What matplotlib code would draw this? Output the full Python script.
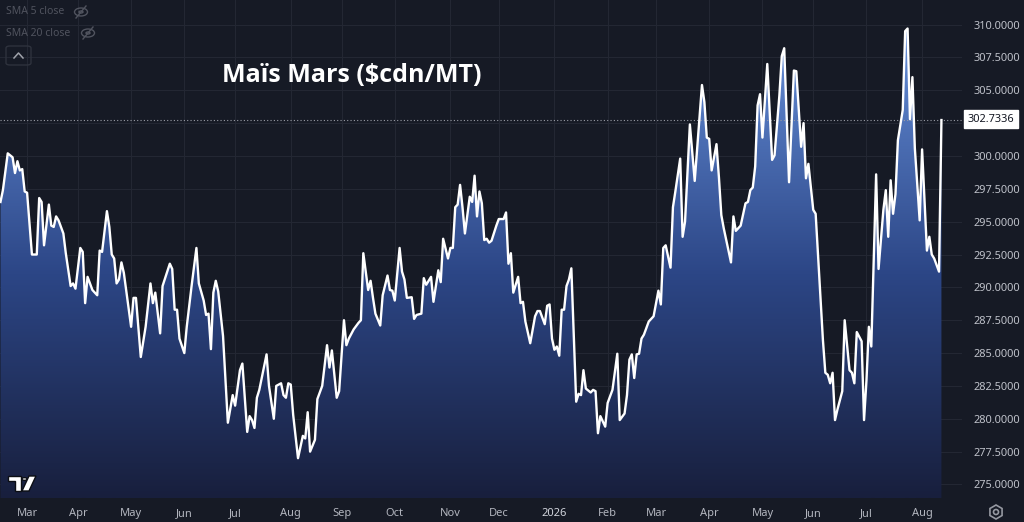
import matplotlib
matplotlib.use("Agg")
import matplotlib.pyplot as plt
import numpy as np
import pandas as pd
from matplotlib.colors import LinearSegmentedColormap
from matplotlib.lines import Line2D
from matplotlib.patches import Ellipse, Circle, FancyBboxPatch, Polygon, RegularPolygon

# ---- data (trading-session number counted from 2025-02-14, close price) ----
start_day = "2025-02-14"
sessions = [
    0, 1, 3, 5, 6, 7, 8, 9, 10, 11,
    13, 15, 16, 17, 18, 20, 21, 22, 23, 24,
    26, 27, 29, 30, 31, 33, 34, 35, 36, 38,
    40, 41, 42, 44, 45, 46, 47, 48, 49, 50,
    51, 54, 55, 56, 58, 60, 62, 63, 64, 66,
    67, 70, 71, 72, 73, 74, 76, 77, 79, 81,
    82, 84, 85, 86, 87, 88, 89, 90, 92, 94,
    96, 97, 99, 100, 102, 103, 104, 105, 106, 107,
    110, 111, 113, 114, 116, 117, 118, 119, 120, 121,
    123, 125, 126, 127, 128, 130, 131, 133, 135, 136,
    137, 139, 140, 142, 143, 144, 146, 148, 149, 150,
    152, 153, 154, 155, 157, 158, 160, 161, 162, 163,
    165, 166, 167, 168, 170, 171, 172, 174, 175, 176,
    178, 179, 181, 182, 183, 185, 186, 187, 188, 189,
    190, 191, 192, 194, 195, 196, 197, 198, 199, 200,
    201, 202, 203, 205, 206, 208, 209, 210, 211, 212,
    214, 215, 216, 217, 219, 221, 222, 223, 225, 226,
    227, 228, 229, 230, 231, 232, 233, 234, 235, 236,
    238, 239, 240, 241, 242, 244, 245, 246, 247, 248,
    250, 251, 253, 255, 256, 258, 259, 260, 261, 262,
    263, 264, 265, 266, 268, 270, 272, 273, 274, 275,
    277, 278, 279, 281, 282, 283, 285, 287, 290, 291,
    292, 293, 294, 296, 297, 298, 299, 302, 303, 304,
    306, 308, 309, 310, 311, 312, 313, 314, 315, 317,
    319, 320, 322, 323, 324, 326, 328, 329, 331, 332,
    333, 334, 336, 337, 340, 341, 342, 343, 344, 345,
    346, 348, 349, 350, 351, 352, 353, 354, 356, 357,
    358, 359, 360, 362, 363, 365, 366, 367, 368, 369,
    370, 371, 373, 374, 375, 376, 377, 378, 380, 381,
    383, 384, 385, 386, 388, 389,
]
prices = [
    296.5, 297.4, 300.2, 299.9, 298.7, 299.6, 298.9, 299.0, 297.3, 297.2,
    292.5, 292.5, 296.8, 296.5, 293.2, 296.3, 294.7, 294.6, 295.4, 295.1,
    294.1, 292.6, 290.1, 290.3, 289.9, 293.0, 292.7, 288.8, 290.8, 289.8,
    289.4, 292.8, 292.7, 295.8, 294.6, 292.5, 292.2, 290.3, 290.6, 291.9,
    291.1, 287.0, 289.2, 289.2, 284.7, 287.0, 290.3, 288.8, 289.6, 286.5,
    290.1, 291.8, 291.4, 288.3, 288.3, 286.1, 285.0, 287.0, 290.1, 293.0,
    290.3, 289.0, 287.9, 288.0, 285.3, 289.6, 290.5, 289.7, 286.3, 279.7,
    281.8, 281.0, 283.7, 284.2, 279.0, 280.2, 279.9, 279.3, 281.6, 282.2,
    284.9, 282.5, 280.0, 282.5, 282.7, 281.8, 281.6, 282.7, 282.6, 280.3,
    277.0, 278.7, 278.5, 280.5, 277.5, 278.4, 281.5, 282.5, 285.6, 283.9,
    285.2, 281.6, 282.1, 287.5, 285.6, 286.1, 286.8, 287.3, 287.5, 292.6,
    289.8, 290.5, 289.2, 288.0, 287.1, 289.4, 290.9, 289.8, 289.75, 289.0,
    293.0, 291.2, 290.6, 289.2, 289.25, 287.6, 287.9, 288.0, 290.7, 290.2,
    290.8, 288.9, 291.3, 290.4, 293.7, 292.2, 293.0, 293.0, 296.1, 296.3,
    297.8, 296.1, 294.1, 296.9, 296.5, 298.5, 295.4, 297.3, 296.4, 293.6,
    293.7, 293.4, 293.55, 294.7, 295.2, 295.2, 295.7, 291.8, 292.6, 289.6,
    290.8, 288.8, 288.9, 287.4, 285.75, 287.8, 288.2, 288.2, 287.2, 288.6,
    288.7, 286.1, 285.25, 285.5, 284.8, 288.3, 288.3, 290.1, 290.6, 291.45,
    281.3, 281.9, 281.8, 283.7, 282.3, 282.0, 282.2, 282.1, 278.9, 280.2,
    279.4, 281.2, 282.2, 284.95, 279.9, 280.4, 281.8, 284.5, 284.9, 283.1,
    284.9, 284.95, 286.1, 286.4, 287.4, 287.8, 289.75, 288.7, 293.0, 293.2,
    291.5, 296.1, 297.3, 299.8, 293.85, 295.0, 302.4, 298.1, 305.4, 304.1,
    301.4, 301.3, 298.9, 300.9, 298.4, 295.5, 294.5, 291.9, 295.4, 294.3,
    294.7, 296.4, 296.5, 297.4, 297.6, 299.2, 303.85, 304.7, 301.4, 307.0,
    299.7, 300.05, 304.6, 307.6, 308.2, 298.0, 306.5, 306.45, 300.7, 302.5,
    298.3, 299.4, 295.9, 295.6, 286.0, 283.5, 283.35, 282.7, 283.5, 279.9,
    280.7, 282.1, 287.5, 285.6, 283.7, 283.5, 282.7, 286.6, 285.9, 279.9,
    282.9, 287.0, 285.5, 298.6, 291.4, 295.9, 297.4, 293.85, 298.15, 295.6,
    297.1, 301.2, 303.5, 309.5, 309.7, 302.8, 306.0, 300.6, 295.1, 300.5,
    292.8, 293.85, 292.5, 292.2, 291.2, 302.7336,
]
price_ticks = np.arange(275.0, 310.01, 2.5)
last_price = 302.7336
title = "Maïs Mars ($cdn/MT)"
legend_rows = ["SMA 5 close", "SMA 20 close"]

BG = "#161a25"
GRID = "#232733"
TXT = "#b2b5be"
W, H = 1024, 522


def px(x, y):
    return x / W, 1 - y / H


fig = plt.figure(figsize=(W / 100, H / 100), dpi=100, facecolor=BG)
plt.rcParams["font.family"] = ["Noto Sans", "DejaVu Sans"]
ax = fig.add_axes([0, 24 / H, 962 / W, 1 - 24 / H])
ax.set_facecolor(BG)
for s in ax.spines.values():
    s.set_visible(False)

x = np.array(sessions, dtype=float)
y = np.array(prices)
ymin, ymax = 273.97, 311.87
xmin, xmax = -0.2, 397.5

# gradient area under the line
poly = ax.fill_between(x, y, ymin, facecolor="none", edgecolor="none")
cmap = LinearSegmentedColormap.from_list(
    "tv", [(0, "#181f3d"), (0.45, "#2c4686"), (1, "#6c97e2")])
grad = np.linspace(0, 1, 256).reshape(-1, 1)
img = ax.imshow(grad, extent=[xmin, xmax, ymin, ymax], origin="lower",
                aspect="auto", cmap=cmap, zorder=1)
img.set_clip_path(poly.get_paths()[0], transform=ax.transData)
ax.plot(x, y, color="white", lw=1.7, zorder=3, solid_joinstyle="round")

# last price dotted line
ax.axhline(last_price, color="#9a9da6", lw=0.8, ls=(0, (1, 2)), zorder=2)

ax.set_xlim(xmin, xmax)
ax.set_ylim(ymin, ymax)

# month ticks at first session of each month
days = pd.bdate_range(start_day, periods=400)
month_idx, month_lab = [], []
prev = None
for i, d in enumerate(days):
    if (d.year, d.month) != prev:
        if 0 < i < xmax:
            month_idx.append(i)
            month_lab.append(str(d.year) if d.month == 1 else d.strftime("%b"))
        prev = (d.year, d.month)
ax.set_xticks(month_idx)
ax.set_xticklabels(month_lab)
for lab in ax.get_xticklabels():
    lab.set_color(TXT)
    lab.set_fontsize(8)
    if lab.get_text().isdigit():
        lab.set_fontweight("bold")
        lab.set_color("#d1d4dc")

ax.yaxis.tick_right()
ax.set_yticks(price_ticks)
ax.set_yticklabels(["" if abs(v - 302.5) < 0.01 else f"{v:.4f}" for v in price_ticks])
ax.tick_params(axis="y", length=0, pad=8, labelsize=7.9, labelcolor="#bfc2ca")
ax.tick_params(axis="x", length=0, pad=7)
ax.grid(True, color=GRID, lw=0.8, zorder=0)
ax.set_axisbelow(True)

# last price label
fig.text(*px(991, 119), f"{last_price:.4f}", ha="center", va="center",
         fontsize=7.9, color="#131722",
         bbox=dict(boxstyle="square,pad=0.3", fc="white", ec="white"))

# title
fig.text(*px(222, 76), title, ha="left", va="center", fontsize=18,
         fontweight="bold", color="white", family=["Open Sans", "DejaVu Sans"])

# legend rows with hidden-eye icons
dim = "#50535e"
for row, yy, ex in zip(legend_rows, [12, 33], [81, 88]):
    fig.text(*px(6, yy), row, ha="left", va="center", fontsize=7.5, color=dim)
    cx, cy = px(ex, yy)
    fig.add_artist(Ellipse((cx, cy), 13 / W, 8 / H, fill=False, ec=dim, lw=1,
                           transform=fig.transFigure))
    fig.add_artist(Circle((cx, cy), 2 / W, fill=False, ec=dim, lw=1,
                          transform=fig.transFigure))
    x0, y0 = px(ex - 5, yy + 6)
    x1, y1 = px(ex + 5, yy - 6)
    fig.add_artist(Line2D([x0, x1], [y0, y1], color=dim, lw=1,
                          transform=fig.transFigure))

bx, by = px(6, 65)
fig.add_artist(FancyBboxPatch((bx, by), 25 / W, 19 / H,
                              boxstyle="round,pad=0,rounding_size=0.004",
                              fill=False, ec="#2e323d", lw=1,
                              transform=fig.transFigure))
cx = [px(14, 58)[0], px(18.5, 53)[0], px(23, 58)[0]]
cy = [px(14, 58)[1], px(18.5, 53)[1], px(23, 58)[1]]
fig.add_artist(Line2D(cx, cy, color="#a0a3ab", lw=1.1, transform=fig.transFigure))


# TradingView logo (bottom left)
def fpoly(pts, **kw):
    fig.add_artist(Polygon([px(a, b) for a, b in pts], closed=True,
                           transform=fig.transFigure, **kw))


logo = dict(fc="white", ec="#0c0e14", lw=1)
fpoly([(8, 476), (21, 476), (21, 491), (15, 491), (15, 481), (8, 481)], **logo)
cxl, cyl = px(24.5, 479)
fig.add_artist(Circle((cxl, cyl), 2.6 / W, transform=fig.transFigure, **logo))
fpoly([(29, 476), (36, 476), (29, 491), (22, 491)], **logo)

# settings gear (bottom right)
gx, gy = px(996, 512)
fig.add_artist(RegularPolygon((gx * W, gy * H), 6, radius=7, orientation=0,
                              fill=False, ec="#9598a1", lw=1.2, transform=None))
fig.add_artist(Circle((gx * W, gy * H), 2.5, fill=False, ec="#9598a1", lw=1.2,
                      transform=None))

fig.savefig("out.png", dpi=100, facecolor=BG)
